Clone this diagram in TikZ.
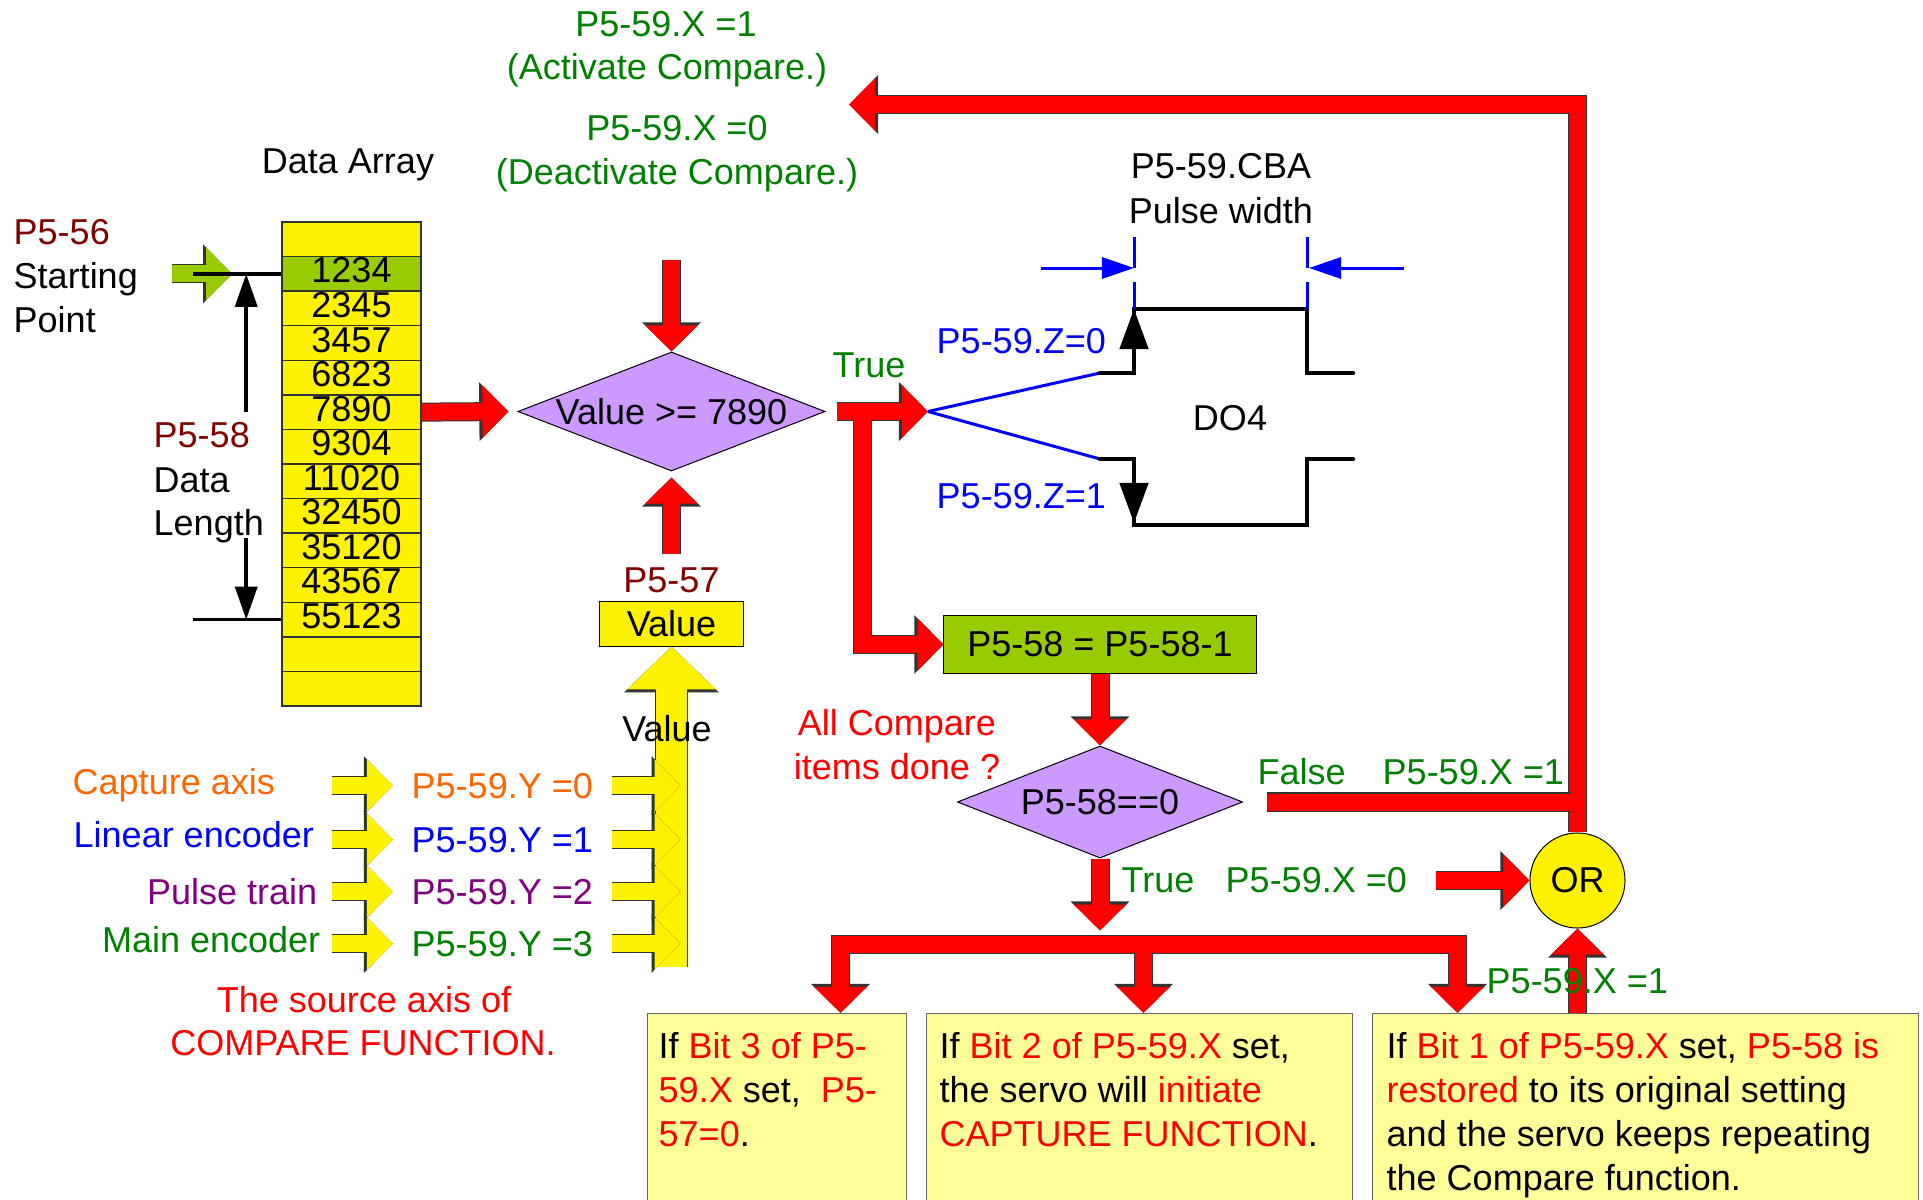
\documentclass[tikz,border=0pt]{standalone}
\usepackage{fontspec}
\setmainfont{Liberation Sans}
\usepackage{tikz}
\usetikzlibrary{arrows.meta, shapes.geometric, calc}

\definecolor{parred}{HTML}{800000}
\definecolor{okgreen}{HTML}{008000}
\definecolor{axorange}{HTML}{FF6600}
\definecolor{axpurple}{HTML}{800080}
\definecolor{lilac}{HTML}{CC99FF}
\definecolor{leaf}{HTML}{99CC00}
\definecolor{note}{HTML}{FFFF99}

\tikzset{
  txt/.style={inner sep=0pt},
  cell/.style={draw=black!80, line width=0.015cm, minimum width=1.39cm, minimum height=0.3457cm,
    inner sep=0pt, text height=0.26cm, text depth=0.08cm},
  dia/.style={diamond, draw, fill=lilac, line width=0.01cm, inner sep=0pt, aspect=2.6},
  % block arrows: coloured body with a thin dark rim
  fat/.style={draw=#1, line width=0.17cm, line join=miter, preaction={draw=black!80, line width=0.19cm}},
  fat/.default=red,
  bigfat/.style={draw=yellow, line width=0.30cm, line join=miter, preaction={draw=black!80, line width=0.32cm},
    -{Triangle[width=0pt 2.87,length=0pt 1.43]}},
  dim/.style={line width=0.035cm},
  dimtip/.style={-{Triangle[width=0.22cm,length=0.33cm]}},
  wave/.style={line width=0.045cm, line cap=round},
  edgetip/.style={-{Triangle[width=0.28cm,length=0.40cm]}},
  pw/.style={blue, line width=0.03cm},
  pwtip/.style={-{Triangle[width=0.21cm,length=0.32cm]}},
  notebox/.style={draw=black!60, fill=note, line width=0.01cm, inner sep=0pt, minimum height=2.1cm, anchor=north west},
}

\begin{document}
\begin{tikzpicture}[x=0.01cm, y=-0.01cm, font=\fontsize{10.24pt}{12.52pt}\selectfont,
  >={Triangle[width=0pt 3,length=0pt 1.53]}]
\useasboundingbox (0,0) rectangle (1923,1200);

% data array
\foreach \val/\col [count=\i] in {/yellow,1234/leaf,2345/yellow,3457/yellow,6823/yellow,7890/yellow,9304/yellow,
    11020/yellow,32450/yellow,35120/yellow,43567/yellow,55123/yellow,/yellow,/yellow}
  \node[cell, fill=\col] (r\i) at (351.5,{222+34.57*(\i-0.5)}) {\val};
\node[txt, anchor=base] (arrlbl) at (348,173) {Data Array};

\node[txt, anchor=base west, text=parred] (p56) at (13,244) {P5-56};
\node[txt, anchor=base west] (p56a) at (13,288) {Starting};
\node[txt, anchor=base west] (p56b) at (13,332) {Point};
\node[txt, anchor=base west, text=parred] (p58) at (153,447) {P5-58};
\node[txt, anchor=base west] (p58a) at (153,492) {Data};
\node[txt, anchor=base west] (p58b) at (153,535) {Length};

% start marker and data length
\draw[fat=leaf, ->] ($(r2.west)+(-109,0)$) -- ++(60,0);
\draw[dim] (r2.west) -- ++(-88,0);
\draw[dim] (r12.west) -- ++(-88,0);
\draw[dim, dimtip] ($(r2.west)+(-35,138)$) -- ($(r2.west)+(-35,0)$);
\draw[dim, dimtip] ($(r12.west)+(-35,-82)$) -- ($(r12.west)+(-35,0)$);

% compare / activate
\node[txt, anchor=base, text=okgreen] (xon) at (666,37) {P5-59.X =1};
\node[txt, anchor=base, text=okgreen] (xona) at (667,80) {(Activate Compare.)};
\node[txt, anchor=base, text=okgreen] (xoff) at (677,140) {P5-59.X =0};
\node[txt, anchor=base, text=okgreen] (xoffa) at (677,184) {(Deactivate Compare.)};

\node[dia, minimum width=3.07cm, minimum height=1.19cm] (cmp) at (671.5,411.5) {Value >= 7890};
\node[txt, anchor=base, text=parred] (p57) at (671.5,592) {P5-57};
\node[txt, draw, fill=yellow, line width=0.01cm, minimum width=1.43cm, minimum height=0.44cm] (val) at (671.5,624) {Value};
\coordinate (vbot) at (671.5,967);
\draw[bigfat] (vbot) -- (val.south);

\draw[fat, ->] (r6.east) -- ([xshift=-0.09cm]cmp.west);
\draw[fat, ->] ([yshift=0.91cm]cmp.north) -- (cmp.north);
\draw[fat, ->] ([yshift=0.13cm]p57.north) -- ([yshift=-0.06cm]cmp.south);

% source axis
\node[txt, anchor=base west, text=axorange] (src0) at (72,794) {Capture axis};
\node[txt, anchor=base west, text=blue] (src1) at (73,847) {Linear encoder};
\node[txt, anchor=base east, text=axpurple] (src2) at (318,904) {Pulse train};
\node[txt, anchor=base east, text=okgreen] (src3) at (321,952) {Main encoder};
\node[txt, anchor=base west, text=axorange] (y0) at (411,798) {P5-59.Y =0};
\node[txt, anchor=base west, text=blue] (y1) at (411,852) {P5-59.Y =1};
\node[txt, anchor=base west, text=axpurple] (y2) at (411,904) {P5-59.Y =2};
\node[txt, anchor=base west, text=okgreen] (y3) at (411,956) {P5-59.Y =3};
\foreach \k in {0,...,3} {
  \draw[fat=yellow, ->] ([xshift=-0.79cm]y\k.west) -- ++(61,0);
  \draw[fat=yellow, ->] ([xshift=0.18cm]y\k.east) -- ++(69,0);
}
\node[txt, anchor=base] (vallbl) at (667,741) {Value};
\node[txt, anchor=base, text=red] (srcnote) at (364,1012) {The source axis of};
\node[txt, anchor=base, text=red] (srcnote2) at (363,1055) {COMPARE FUNCTION.};

% true branch and DO4 pulse
\coordinate (fork) at (928,411.5);
\draw[fat, ->] ([xshift=0.11cm]cmp.east) -- (fork);
\node[txt, anchor=base west, text=okgreen] (ttrue) at (832,377) {True};
\node[txt, draw, fill=leaf, line width=0.01cm, minimum width=3.12cm, minimum height=0.57cm] (dec) at (1100,644.5) {P5-58 = P5-58-1};
\draw[fat, ->] ($(cmp.east)+(37,8.5)$) |- (dec.west);

\coordinate (hi0) at (1100,373);
\coordinate (lo0) at (1100,459);
\draw[pw] (fork) -- (hi0);
\draw[pw] (fork) -- (lo0);
\draw[wave] (hi0) -- ++(34,0) coordinate (hi1) -- ++(0,-64) coordinate (pw1) -- ++(173,0) coordinate (pw2) -- ++(0,64) -- ++(46,0);
\draw[wave] (lo0) -- ++(34,0) coordinate (lo1) -- ++(0,66) -- ++(173,0) -- ++(0,-66) -- ++(46,0);
\draw[wave, edgetip] (hi1) -- (pw1);
\draw[wave, edgetip] (lo1) -- ++(0,64);
\draw[pw, dash pattern=on 0.31cm off 0.14cm] ($(pw1)+(0,-72)$) -- (pw1);
\draw[pw, dash pattern=on 0.31cm off 0.14cm] ($(pw2)+(0,-72)$) -- (pw2);
\draw[pw, pwtip] ($(pw1)+(-93,-41)$) -- ($(pw1)+(0,-41)$);
\draw[pw, pwtip] ($(pw2)+(97,-41)$) -- ($(pw2)+(2,-41)$);
\node[txt, anchor=base] (cba) at (1221,179) {P5-59.CBA};
\node[txt, anchor=base] (pwid) at (1221,223) {Pulse width};
\node[txt, anchor=base west, text=blue] (z0) at (936,353) {P5-59.Z=0};
\node[txt, anchor=base west, text=blue] (z1) at (936,508) {P5-59.Z=1};
\node[txt, anchor=base] (do4) at (1230,430) {DO4};

% all items done?
\node[dia, minimum width=2.85cm, minimum height=1.12cm] (done) at (1100,802) {P5-58==0};
\draw[fat, ->] (dec.south) -- (done.north);
\node[txt, anchor=base, text=red] (q1) at (897,735) {All Compare};
\node[txt, anchor=base, text=red] (q2) at (897,779) {items done ?};
\node[txt, circle, draw, fill=yellow, line width=0.01cm, minimum size=0.95cm] (or) at (1577.5,880.5) {OR};
\coordinate (act) at (849,104.5);
\draw[fat, ->] (or.north) |- (act);
\draw[fat, shorten >=0.065cm] ([xshift=0.24cm]done.east) -- (done.east -| or.north);
\node[txt, anchor=base west, text=okgreen] (ffalse) at (1257,784) {False};
\node[txt, anchor=base west, text=okgreen] (xf) at (1382,784) {P5-59.X =1};
\node[txt, anchor=base west, text=okgreen] (tt) at (1121,892) {True};
\node[txt, anchor=base west, text=okgreen] (xt) at (1225,892) {P5-59.X =0};
\draw[fat, ->] ([xshift=-0.93cm]or.west) -- (or.west);
\draw[fat, ->] (done.south) -- ++(0,72);

% result boxes
\node[notebox, minimum width=2.59cm] (b1) at (647,1013) {};
\node[notebox, minimum width=4.26cm] (b2) at (926,1013) {};
\node[notebox, minimum width=5.46cm] (b3) at (1372,1013) {};
\coordinate (d1) at (840.5,944.5);
\coordinate (d2) at (1143.5,944.5);
\coordinate (d3) at (1457.5,944.5);
\draw[fat, <->] (d1 |- b1.north) -- (d1) -- (d3) -- (d3 |- b3.north);
\draw[fat, ->] ([yshift=-0.075cm]d2) -- (d2 |- b2.north);
\draw[fat, ->] (or.south |- b3.north) -- (or.south);
\node[txt, anchor=base west, text=okgreen] (xr) at (1486,993) {P5-59.X =1};

\node[txt, align=left, anchor=north west] (n1) at ($(b1.north west)+(11,19)$)
  {If \textcolor{red}{Bit 3 of P5-}\\\textcolor{red}{59.X} set, \ \textcolor{red}{P5-}\\\textcolor{red}{57=0}.};
\node[txt, align=left, anchor=north west] (n2) at ($(b2.north west)+(13,19)$)
  {If \textcolor{red}{Bit 2 of P5-59.X} set,\\the servo will \textcolor{red}{initiate}\\\textcolor{red}{CAPTURE FUNCTION}.};
\node[txt, align=left, anchor=north west] (n3) at ($(b3.north west)+(14,19)$)
  {If \textcolor{red}{Bit 1 of P5-59.X} set, \textcolor{red}{P5-58 is}\\\textcolor{red}{restored} to its original setting\\and the servo keeps repeating\\the Compare function.};
\end{tikzpicture}
\end{document}
